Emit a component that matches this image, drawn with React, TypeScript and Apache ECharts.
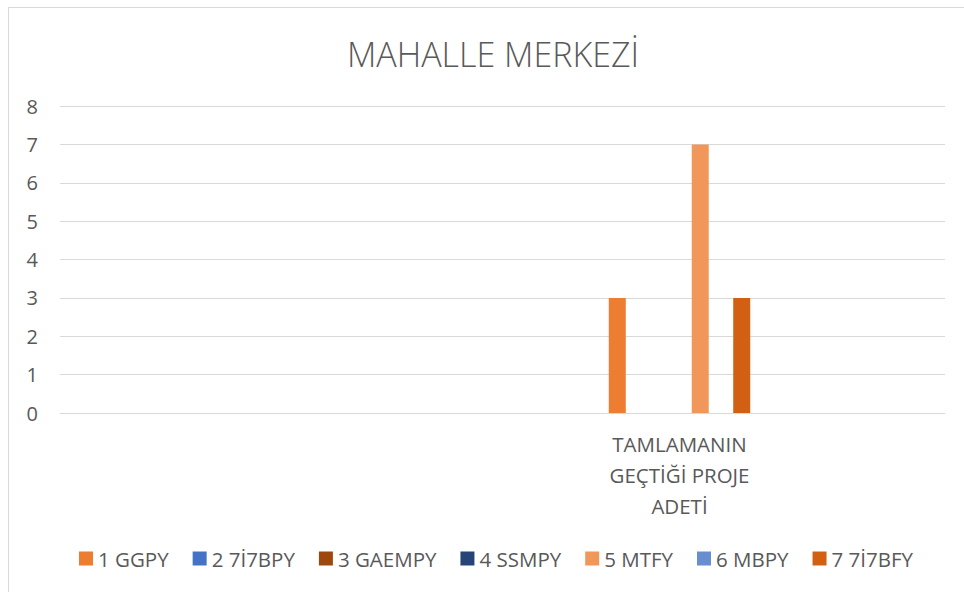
import React, { useEffect, useRef } from "react";
import * as echarts from "echarts";

const categories = ["", "", "", "TAMLAMANIN GEÇTİĞİ PROJE ADETİ", ""];
const seriesNames = ["1 GGPY", "2 7İ7BPY", "3 GAEMPY", "4 SSMPY", "5 MTFY", "6 MBPY", "7 7İ7BFY"];
const seriesColors = ["#ED7D31", "#4472C4", "#9E480E", "#264478", "#F1975A", "#698ED0", "#D26012"];
const values1 = [null, null, null, 3, null];
const values2 = [null, null, null, 0, null];
const values3 = [null, null, null, 0, null];
const values4 = [null, null, null, 0, null];
const values5 = [null, null, null, 7, null];
const values6 = [null, null, null, 0, null];
const values7 = [null, null, null, 3, null];
const seriesValues = [values1, values2, values3, values4, values5, values6, values7];
const yTicks = { min: 0, max: 8, interval: 1 };

const FONT = "'Open Sans', 'Noto Sans', sans-serif";
const TEXT = "#595959";

function wrap(label: string, maxChars: number): string {
  const words = label.split(" ");
  const lines: string[] = [];
  let cur = "";
  for (const w of words) {
    if (!cur) cur = w;
    else if ((cur + " " + w).length <= maxChars) cur += " " + w;
    else {
      lines.push(cur);
      cur = w;
    }
  }
  if (cur) lines.push(cur);
  return lines.join("\n");
}

export default function App() {
  const ref = useRef<HTMLDivElement>(null);
  useEffect(() => {
    if (!ref.current) return;
    const chart = echarts.init(ref.current, null, { renderer: "svg" });
    chart.setOption({
      animation: false,
      backgroundColor: "#ffffff",
      textStyle: { fontFamily: FONT },
      title: {
        text: "MAHALLE MERKEZİ",
        left: 488,
        textAlign: "center",
        top: 32,
        textStyle: { fontFamily: FONT, fontSize: 34, fontWeight: 300, color: TEXT },
      },
      graphic: [
        { type: "line", shape: { x1: 8, y1: 7.5, x2: 964, y2: 7.5 }, style: { stroke: "#D9D9D9", lineWidth: 1 } },
        { type: "line", shape: { x1: 8.5, y1: 7, x2: 8.5, y2: 592 }, style: { stroke: "#D9D9D9", lineWidth: 1 } },
      ],
      legend: {
        data: seriesNames,
        left: 74,
        top: 543,
        itemWidth: 14,
        itemHeight: 14,
        itemGap: 24,
        icon: "rect",
        textStyle: { fontFamily: FONT, fontSize: 20.5, color: TEXT },
      },
      grid: { left: 60, right: 19, top: 106, bottom: 179, containLabel: false },
      xAxis: {
        type: "category",
        data: categories,
        axisLine: { show: true, lineStyle: { color: "#D9D9D9", width: 1 } },
        axisTick: { show: false },
        axisLabel: {
          interval: 0,
          margin: 15,
          color: TEXT,
          fontFamily: FONT,
          fontSize: 20.5,
          lineHeight: 31,
          align: "center",
          formatter: (v: string) => wrap(v, 13),
        },
      },
      yAxis: {
        type: "value",
        min: yTicks.min,
        max: yTicks.max,
        interval: yTicks.interval,
        axisLine: { show: false },
        axisTick: { show: false },
        splitLine: { lineStyle: { color: "#D9D9D9", width: 1 } },
        axisLabel: { margin: 22, color: TEXT, fontFamily: FONT, fontSize: 20 },
      },
      series: seriesNames.map((name, i) => ({
        name,
        type: "bar",
        data: seriesValues[i],
        barWidth: 17,
        barGap: "22%",
        itemStyle: { color: seriesColors[i] },
      })),
    });
    return () => chart.dispose();
  }, []);
  return (
    <div
      ref={ref}
      style={{ position: "fixed", left: 0, top: 0, width: 964, height: 592 }}
    />
  );
}
